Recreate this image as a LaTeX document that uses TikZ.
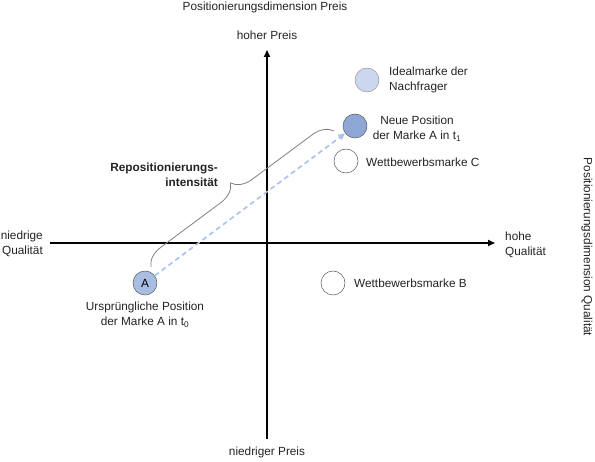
\documentclass[tikz,border=0pt]{standalone}
\usepackage{fontspec}
\setmainfont{Liberation Sans}
\usetikzlibrary{arrows.meta,decorations.pathreplacing}
\definecolor{cA}{RGB}{168,189,226}
\definecolor{cNew}{RGB}{143,167,212}
\definecolor{cIdeal}{RGB}{202,215,238}
\definecolor{cDash}{RGB}{168,194,234}
\definecolor{cTxt}{RGB}{35,35,35}
\tikzset{
  lbl/.style={font=\fontsize{11.8}{15}\selectfont, text=cTxt, inner sep=0pt},
  brand/.style={circle, minimum size=24pt, inner sep=0pt, draw=black!65, line width=0.5pt},
  axis/.style={line width=1.6pt, -{Triangle[length=7pt,width=6pt]}},
}
\begin{document}
\begin{tikzpicture}[x=1pt,y=-1pt]
\useasboundingbox (0,0) rectangle (595,462);
% axes
\coordinate (vb) at (267,439);
\coordinate (vt) at (267,50);
\coordinate (hl) at (50,243);
\coordinate (hr) at (495,243);
\draw[axis] (vb) -- (vt);
\draw[axis] (hl) -- (hr);
% axis labels
\node[lbl] (dimP) at (265,7) {Positionierungsdimension Preis};
\node[lbl] (hp) at (267,35) {hoher Preis};
\node[lbl] (np) at (267,452) {niedriger Preis};
\node[lbl, align=right, anchor=east] (nq) at (43,244) {niedrige\\Qualität};
\node[lbl, align=left, anchor=west] (hq) at (505,245) {hohe\\Qualität};
\node[lbl, rotate=-90] (dimQ) at (587,247) {Positionierungsdimension Qualität};
% brands
\node[brand, fill=cIdeal, draw=black!40] (ideal) at (367,80) {};
\node[brand, fill=cNew] (new) at (355,126) {};
\node[brand, fill=white] (C) at (346,161) {};
\node[brand, fill=white] (B) at (333,283) {};
\node[brand, fill=cA, font=\fontsize{11.8}{13}\selectfont] (A) at (145,283) {A};
% brand labels
\node[lbl, align=left, anchor=west] (idealL) at (389,80) {Idealmarke der\\Nachfrager};
\node[lbl, align=center] (newL) at (417,129) {Neue Position\\der Marke A in t\textsubscript{1}};
\node[lbl, anchor=west] (CL) at (366,162) {Wettbewerbsmarke C};
\node[lbl, anchor=west] (BL) at (354,283) {Wettbewerbsmarke B};
\node[lbl, align=center] (AL) at (145,315) {Ursprüngliche Position\\der Marke A in t\textsubscript{0}};
% dashed arrow
\draw[cDash, line width=1.6pt, dash pattern=on 5pt off 3.5pt, -{Triangle[length=7pt,width=6pt]}] (A) -- (new);
% brace
\coordinate (b1) at (151,267);
\coordinate (b2) at (334,131);
\draw[black!50, line width=0.8pt, decorate, decoration={brace, amplitude=20pt}] (b1) -- (b2);
\node[lbl, font=\fontsize{11.8}{15}\selectfont\bfseries, align=right, anchor=east] (rep) at (218,175) {Repositionierungs-\\intensität};
\end{tikzpicture}
\end{document}
